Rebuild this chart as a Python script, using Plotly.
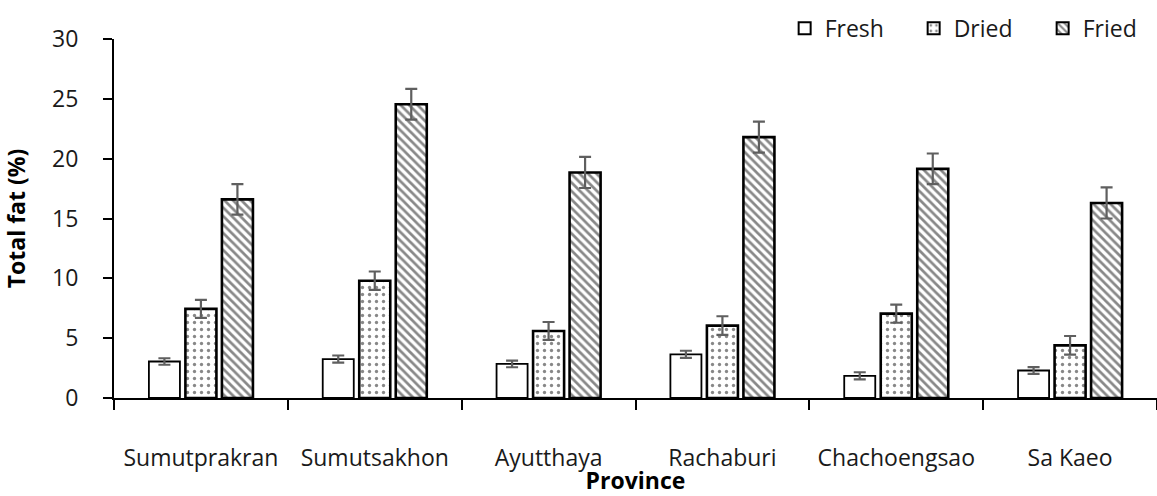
import plotly.graph_objects as go

# Total fat content by province and product form
provinces = ["Sumutprakran", "Sumutsakhon", "Ayutthaya", "Rachaburi", "Chachoengsao", "Sa Kaeo"]

fresh = [3.05, 3.25, 2.85, 3.65, 1.85, 2.3]
fresh_err = [0.27, 0.3, 0.28, 0.3, 0.3, 0.28]

dried = [7.45, 9.8, 5.6, 6.05, 7.05, 4.4]
dried_err = [0.75, 0.77, 0.75, 0.78, 0.76, 0.78]

fried = [16.6, 24.55, 18.85, 21.8, 19.15, 16.3]
fried_err = [1.27, 1.28, 1.3, 1.3, 1.28, 1.3]

FONT = "Open Sans"
TEXT_COLOR = "#1a1a1a"
ERR_COLOR = "#5f5f5f"
SIZE = 23


def err(values):
    return dict(type="data", array=values, visible=True,
                color=ERR_COLOR, thickness=2.2, width=6)


fig = go.Figure()

fig.add_trace(go.Bar(
    name="Fresh", x=provinces, y=fresh, error_y=err(fresh_err),
    marker=dict(color="white", line=dict(color="black", width=1.8)),
))
fig.add_trace(go.Bar(
    name="Dried", x=provinces, y=dried, error_y=err(dried_err),
    marker=dict(color="white", line=dict(color="black", width=2.6),
                pattern=dict(shape=".", fgcolor="#111111", bgcolor="white",
                             size=7, solidity=0.18)),
))
fig.add_trace(go.Bar(
    name="Fried", x=provinces, y=fried, error_y=err(fried_err),
    marker=dict(color="white", line=dict(color="black", width=2.6),
                pattern=dict(shape="\\", fgcolor="#111111", bgcolor="white",
                             size=6, solidity=0.45)),
))

fig.update_layout(
    width=1157, height=496,
    margin=dict(l=114, r=0, t=39, b=98, autoexpand=False),
    paper_bgcolor="white", plot_bgcolor="white",
    barmode="group", bargap=0.37, bargroupgap=0.15,
    font=dict(family=FONT, size=SIZE, color=TEXT_COLOR),
    showlegend=True,
    legend=dict(orientation="h", x=0.643, xanchor="left", y=1.03, yanchor="middle",
                font=dict(family=FONT, size=SIZE, color=TEXT_COLOR),
                itemsizing="constant", traceorder="normal", entrywidth=84,
                bgcolor="rgba(0,0,0,0)"),
)

fig.update_xaxes(
    type="category", tickson="boundaries", ticks="outside", ticklen=10,
    tickwidth=1.5, tickcolor="black",
    showline=True, linecolor="black", linewidth=2,
    showgrid=False, ticklabelstandoff=38,
    tickfont=dict(family=FONT, size=SIZE, color=TEXT_COLOR),
    title=dict(text="<b>Province</b>", standoff=0,
               font=dict(family=FONT, size=SIZE, color="black")),
)

fig.update_yaxes(
    range=[0, 30], dtick=5, ticks="outside", ticklen=9, tickwidth=1.5,
    tickcolor="black", showline=True, linecolor="black", linewidth=2,
    showgrid=False, zeroline=False, ticklabelstandoff=20,
    tickfont=dict(family=FONT, size=SIZE, color=TEXT_COLOR),
    title=dict(text="<b>Total fat (%)</b>", standoff=22,
               font=dict(family=FONT, size=SIZE, color="black")),
)

fig.write_html("out.html")
